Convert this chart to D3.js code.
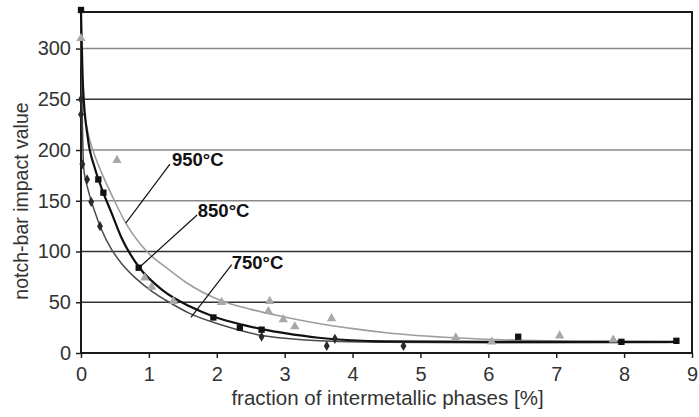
<!DOCTYPE html>
<html>
<head>
<meta charset="utf-8">
<script src="https://cdn.jsdelivr.net/npm/d3@7"></script>
<style>
  html, body { margin: 0; padding: 0; background: #fff; }
  svg { display: block; }
</style>
</head>
<body>
<script>
// ---------- data ----------
const xTicks = [0, 1, 2, 3, 4, 5, 6, 7, 8, 9];
const yTicks = [0, 50, 100, 150, 200, 250, 300];
const seriesNames = ["950°C", "850°C", "750°C"];

// measured points [fraction %, impact value]
const pts950 = [[0,310],[0.53,190],[0.94,74],[1.04,65],[1.36,51],[2.07,50],[2.78,51],[2.76,41],[2.98,33],[3.15,26],[3.69,34],[5.52,15],[6.05,11],[7.05,17],[7.84,13]];
const pts850 = [[0,338],[0.255,171],[0.33,158],[0.85,84],[1.95,35],[2.34,25],[2.66,23],[6.44,16],[7.96,11],[8.77,12]];
const pts750 = [[0,250],[0,235],[0.02,186],[0.09,171],[0.15,149],[0.28,125],[2.66,16],[3.62,7],[3.74,14],[4.75,7]];

// trend curves
const fit950 = [[0,336],[0.02,255],[0.1,218],[0.2,195],[0.32,175],[0.5,149],[0.66,128],[0.97,100],[1.3,82],[1.56,69],[2.05,52],[2.5,43],[3.0,35.5],[3.5,29],[4.0,24],[4.5,20],[5.5,15],[6.5,12.5],[7.5,11.5],[8.8,11]];
const fit850 = [[0,336],[0.03,262],[0.1,212],[0.2,183],[0.3,163],[0.45,138],[0.6,113],[0.85,85],[1.2,62],[1.6,46],[1.95,36],[2.4,27.5],[2.7,23],[3.0,19.5],[3.5,15],[4.5,11.5],[6,11],[8.8,11]];
const fit750 = [[0,336],[0.015,250],[0.04,182],[0.1,162],[0.2,140],[0.3,122],[0.45,102],[0.6,88],[0.8,74],[1.06,60],[1.3,50],[1.6,39],[2.05,28],[2.69,17],[3.0,14.5],[3.5,12],[4.5,10.5],[6,10],[8.8,10.5]];

// ---------- layout ----------
const W = 699, H = 417;
const svg = d3.select("body").append("svg").attr("width", W).attr("height", H);

const x = d3.scaleLinear().domain([0, 9]).range([81, 692]);
const y = d3.scaleLinear().domain([0, 336]).range([353, 12]);
const FONT = "'Liberation Sans', Arial, sans-serif";

// gridlines
const darkGrid = new Set([50, 100, 250]);
svg.append("g").selectAll("line")
  .data(yTicks.filter(d => d > 0))
  .join("line")
  .attr("x1", x(0)).attr("x2", x(9))
  .attr("y1", d => y(d)).attr("y2", d => y(d))
  .attr("stroke", d => darkGrid.has(d) ? "#333" : "#8a8a8a")
  .attr("stroke-width", 1.6);

// axes
const xAxis = d3.axisBottom(x).tickValues(xTicks).tickSize(5).tickPadding(9).tickFormat(d3.format("d"));
const yAxis = d3.axisLeft(y).tickValues(yTicks).tickSize(5).tickPadding(5).tickFormat(d3.format("d"));

const gx = svg.append("g").attr("transform", `translate(0,${y(0)})`).call(xAxis);
const gy = svg.append("g").attr("transform", `translate(${x(0)},0)`).call(yAxis);
[gx, gy].forEach(g => {
  g.select(".domain").remove();
  g.selectAll(".tick line").attr("stroke", "#222").attr("stroke-width", 1.5);
  g.selectAll(".tick text").attr("fill", "#333").style("font-family", FONT).style("font-size", "20px");
});

// frame
svg.append("rect")
  .attr("x", x(0)).attr("y", y(336))
  .attr("width", x(9) - x(0)).attr("height", y(0) - y(336))
  .attr("fill", "none").attr("stroke", "#1a1a1a").attr("stroke-width", 2);

// axis titles
svg.append("text")
  .attr("x", 387.5).attr("y", 405)
  .attr("text-anchor", "middle")
  .attr("fill", "#333")
  .style("font-family", FONT).style("font-size", "20.5px")
  .text("fraction of intermetallic phases [%]");

svg.append("text")
  .attr("transform", `translate(28,201) rotate(-90)`)
  .attr("text-anchor", "middle")
  .attr("fill", "#333")
  .style("font-family", FONT).style("font-size", "19.5px")
  .text("notch-bar impact value");

// curves
const line = d3.line().x(d => x(d[0])).y(d => y(d[1])).curve(d3.curveMonotoneX);
const curves = [
  { data: fit950, color: "#9d9d9d", w: 1.6 },
  { data: fit750, color: "#4a4a4a", w: 1.5 },
  { data: fit850, color: "#111", w: 2.2 }
];
svg.append("g").selectAll("path")
  .data(curves)
  .join("path")
  .attr("d", d => line(d.data))
  .attr("fill", "none")
  .attr("stroke", d => d.color)
  .attr("stroke-width", d => d.w);

// markers
const markerSets = [
  { data: pts950, symbol: d3.symbolTriangle, size: 38, color: "#a8a8a8" },
  { data: pts750, symbol: d3.symbolDiamond, size: 30, color: "#2a2a2a" },
  { data: pts850, symbol: d3.symbolSquare, size: 40, color: "#111" }
];
markerSets.forEach(s => {
  svg.append("g").selectAll("path")
    .data(s.data)
    .join("path")
    .attr("transform", d => `translate(${x(d[0])},${y(d[1])})`)
    .attr("d", d3.symbol().type(s.symbol).size(s.size))
    .attr("fill", s.color);
});

// annotations (label anchor and leader line in data units)
const notes = [
  { name: seriesNames[0], lx: 1.34, ly: 184, from: [1.31, 186], to: [0.66, 128] },
  { name: seriesNames[1], lx: 1.72, ly: 134, from: [1.71, 136], to: [0.87, 85] },
  { name: seriesNames[2], lx: 2.22, ly: 83, from: [2.22, 87], to: [1.62, 35] }
];
const ng = svg.append("g");
ng.selectAll("line")
  .data(notes)
  .join("line")
  .attr("x1", d => x(d.from[0])).attr("y1", d => y(d.from[1]))
  .attr("x2", d => x(d.to[0])).attr("y2", d => y(d.to[1]))
  .attr("stroke", "#111").attr("stroke-width", 1.2);
ng.selectAll("text")
  .data(notes)
  .join("text")
  .attr("x", d => x(d.lx)).attr("y", d => y(d.ly))
  .attr("fill", "#111")
  .style("font-family", FONT).style("font-size", "18.5px").style("font-weight", "bold")
  .text(d => d.name);
</script>
</body>
</html>
